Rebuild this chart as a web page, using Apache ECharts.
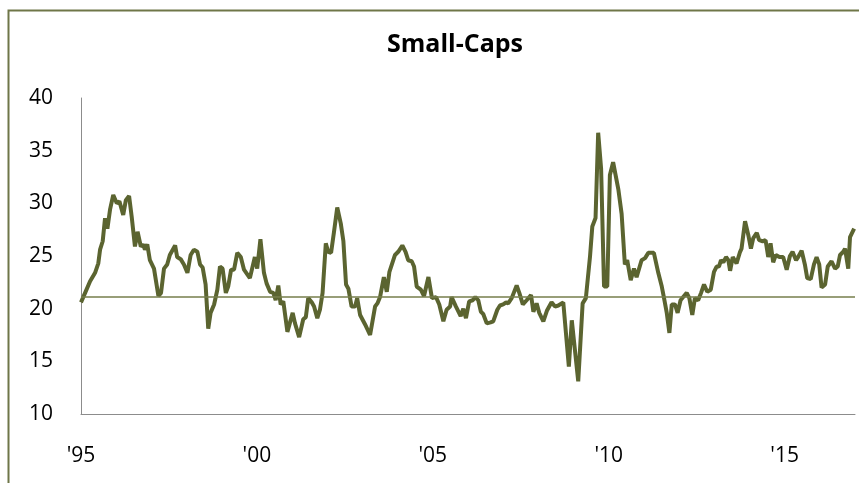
<!DOCTYPE html>
<html>
<head>
<meta charset="utf-8">
<script src="https://cdn.jsdelivr.net/npm/echarts@6/dist/echarts.min.js"></script>
<style>
html,body{margin:0;padding:0;background:#fff;}
#chart{width:859px;height:483px;}
</style>
</head>
<body>
<div id="chart"></div>
<script>
// Months since Jan 1995
const months = [0,1.4,3.1,4.8,5.9,6.5,7.4,8.2,9.0,9.9,11.0,12.2,13.1,13.5,14.4,15.3,16.4,17.3,18.4,19.3,20.4,21.2,21.8,22.6,23.5,24.9,26.4,27.3,28.3,29.4,30.3,32.1,32.8,34.0,35.1,36.3,37.4,38.5,39.7,40.6,41.5,42.5,43.4,44.2,45.4,46.5,47.4,48.3,49.4,50.2,51.2,52.2,53.3,54.5,55.6,57.6,59.3,60.1,61.2,62.4,63.3,64.5,65.6,66.4,67.3,68.1,69.0,70.4,72.2,73.0,74.4,75.8,76.7,77.5,78.7,79.5,80.6,81.5,82.4,83.5,84.3,85.3,86.3,87.4,88.6,89.5,90.4,91.2,92.3,93.5,94.2,95.2,96.9,98.6,100.3,101.1,102.0,103.3,104.3,105.2,107.1,108.2,109.6,110.7,111.6,112.8,113.6,114.5,115.9,117.0,118.5,119.7,121.1,122.2,123.6,124.7,125.9,126.4,127.9,129.5,130.4,131.3,132.4,133.6,134.5,135.5,136.4,137.2,138.4,139.7,140.6,142.0,142.9,144.0,145.0,145.7,146.9,148.6,149.5,150.7,152.0,153.5,154.3,155.4,156.3,157.7,158.9,160.5,161.7,162.8,164.5,166.4,167.4,169.6,171.1,172.2,173.6,174.4,175.5,176.4,177.4,178.4,179.5,180.4,181.5,183.3,184.4,185.5,186.3,187.5,188.6,189.5,191.2,192.4,193.5,195.4,196.9,198.1,198.8,199.8,200.7,201.5,202.6,203.5,204.5,205.4,206.6,207.5,208.5,209.4,210.5,211.5,212.5,213.6,214.8,215.9,216.8,217.6,218.3,219.1,220.0,220.8,221.4,222.3,223.6,224.8,225.3,226.5,227.6,228.5,229.3,230.5,231.3,232.5,233.5,234.4,235.2,236.1,237.0,238.2,239.5,240.7,241.8,242.7,243.9,244.6,245.8,246.9,247.7,248.9,250.0,250.9,251.8,252.6,253.8,254.7,256.0,257.2,258.1,258.9,260.0,260.6,261.7,262.3,263.7];
const values = [20.6,21.5,22.6,23.4,24.3,25.6,26.4,28.6,27.6,29.4,30.8,30.0,30.2,29.8,28.9,30.3,30.7,28.7,25.9,27.3,25.9,26.1,25.6,26.1,24.6,23.8,21.2,21.5,23.8,24.2,25.1,26.0,24.9,24.7,24.2,23.4,25.1,25.6,25.4,24.2,23.9,22.3,18.1,19.6,20.4,21.8,24.0,23.8,21.5,22.1,23.7,23.7,25.3,24.9,23.7,22.9,24.9,23.8,26.6,23.4,22.4,21.6,21.5,20.8,22.2,20.4,20.7,17.8,19.6,18.6,17.3,19.0,19.2,21.0,20.6,20.2,19.1,19.9,21.5,26.2,25.4,25.3,27.3,29.6,28.1,26.4,22.3,21.9,20.2,20.2,21.0,19.4,18.5,17.5,20.2,20.5,21.1,23.0,21.6,23.5,25.1,25.4,26.0,25.4,24.6,24.5,24.0,22.1,21.8,21.2,23.0,21.0,21.1,20.4,18.8,19.9,20.2,21.1,20.2,19.3,20.0,19.1,20.7,20.8,21.1,20.8,19.7,19.5,18.6,18.7,18.8,19.9,20.3,20.4,20.6,20.5,21.0,22.2,21.5,20.4,20.8,21.3,19.7,20.5,19.6,18.8,19.8,20.6,20.2,20.3,20.6,14.5,18.9,13.1,20.5,21.0,24.9,27.8,28.6,36.7,33.3,22.1,22.1,32.7,33.9,31.3,29.0,24.2,24.6,22.7,23.8,23.0,24.6,24.8,25.3,25.3,23.4,22.1,21.1,19.6,17.7,20.4,20.4,19.6,20.8,21.1,21.5,21.0,19.4,21.0,20.8,21.5,22.3,21.6,21.8,23.5,24.0,24.0,24.6,24.4,24.9,24.6,23.6,24.9,24.3,25.4,25.7,28.3,27.0,25.7,26.7,27.2,26.5,26.4,26.5,24.9,26.2,24.4,25.1,24.9,24.9,23.7,25.0,25.4,24.6,24.9,25.5,24.2,22.9,22.8,24.2,24.9,24.2,22.0,22.3,24.0,24.5,23.8,24.0,25.1,25.4,25.7,23.8,26.8,27.6];
const averageValue = 21.1;
const xTickLabels = ["'95","'00","'05","'10","'15"];
const title = "Small-Caps";

const chart = echarts.init(document.getElementById('chart'), null, {renderer:'canvas'});
const fontFam = "'Open Sans', 'Noto Sans', sans-serif";
chart.setOption({
  animation: false,
  backgroundColor: '#ffffff',
  title: {
    text: title,
    left: 450, top: 27,
    textAlign: 'center',
    textStyle: {fontFamily: fontFam, fontWeight: 'bold', fontSize: 25, color: '#000'}
  },
  graphic: [{
    type: 'rect', left: 6, top: 8, silent: true,
    shape: {width: 900, height: 600},
    style: {fill: 'none', stroke: '#6f7648', lineWidth: 2}
  }],
  grid: {left: 81, right: 4, top: 98, bottom: 69, containLabel: false, outerBoundsMode: 'none'},
  xAxis: {
    type: 'value', min: 0, max: 264, interval: 60,
    axisLine: {show: true, lineStyle: {color: '#8c8c8c', width: 1}},
    axisTick: {show: false},
    splitLine: {show: false},
    axisLabel: {
      margin: 32, fontSize: 21, color: '#000', fontFamily: fontFam,
      showMaxLabel: false,
      formatter: v => (v % 60 === 0 ? (xTickLabels[v / 60] || '') : '')
    }
  },
  yAxis: {
    type: 'value', min: 10, max: 40, interval: 5,
    axisLine: {show: true, lineStyle: {color: '#8c8c8c', width: 1}},
    axisTick: {show: false},
    splitLine: {show: false},
    axisLabel: {margin: 28, fontSize: 21, color: '#000', fontFamily: fontFam}
  },
  series: [{
    type: 'line',
    data: months.map((m, i) => [m, values[i]]),
    showSymbol: false,
    lineStyle: {color: '#5b6430', width: 4},
    markLine: {
      silent: true, symbol: 'none',
      label: {show: false},
      lineStyle: {color: '#767e4b', width: 1.5, type: 'solid'},
      data: [{yAxis: averageValue}]
    }
  }]
});
</script>
</body>
</html>
